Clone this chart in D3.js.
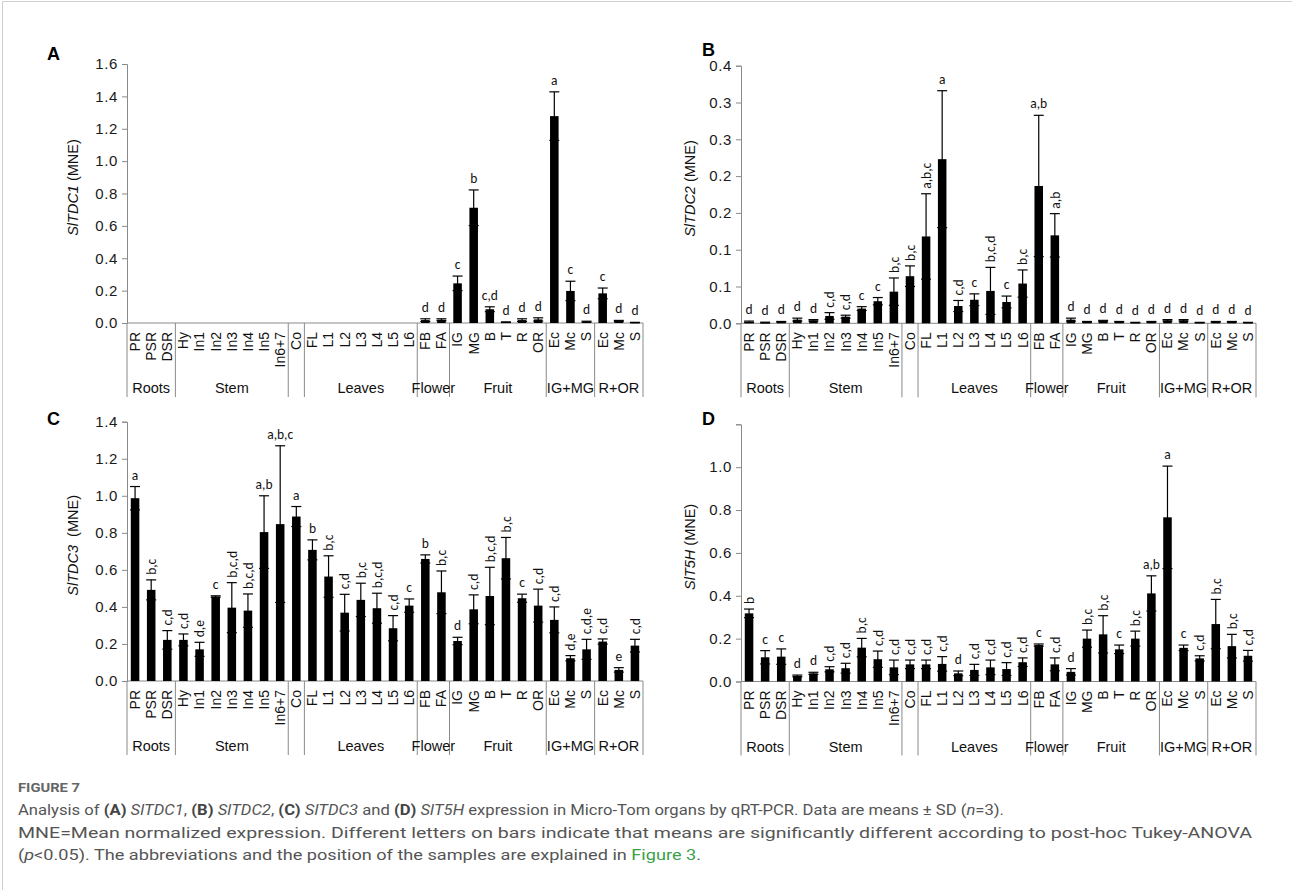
<!DOCTYPE html>
<html>
<head>
<meta charset="utf-8">
<script src="https://cdn.jsdelivr.net/npm/d3@7"></script>
<style>
  body { margin: 0; background: #fff; }
  svg { display: block; }
  .sans { font-family: 'Liberation Sans', Arimo, Arial, sans-serif; }
  .lett { font-family: Carlito, 'Open Sans', sans-serif; }
  .cap { font-family: Roboto, 'Open Sans', sans-serif; }
</style>
</head>
<body>
<div id="chart"></div>
<script>
// sample names, in plot order
var categories = ['PR','PSR','DSR','Hy','In1','In2','In3','In4','In5','In6+7','Co',
  'FL','L1','L2','L3','L4','L5','L6','FB','FA','IG','MG','B','T','R','OR',
  'Ec','Mc','S','Ec','Mc','S'];
var groupNames = ['Roots','Stem','','Leaves','Flower','Fruit','IG+MG','R+OR'];
var groupSizes = [3, 7, 1, 7, 2, 6, 3, 3];

// A: SlTDC1
var tdc1Mean = [null,null,null,null,null,null,null,null,null,null,null,
  null,null,null,null,null,null,null,0.018,0.02,0.245,0.712,0.085,0.005,0.018,0.022,
  1.278,0.198,0.008,0.183,0.012,0.003];
var tdc1Sd = [0,0,0,0,0,0,0,0,0,0,0,0,0,0,0,0,0,0,0.008,0.006,0.045,0.11,0.015,0.002,0.008,0.01,
  0.15,0.06,0.003,0.033,0.004,0.001];
var tdc1Letters = ['','','','','','','','','','','','','','','','','','','d','d','c','b','c,d','d','d','d',
  'a','c','d','c','d','d'];

// B: SlTDC2
var tdc2Mean = [0.002,0.001,0.002,0.005,0.004,0.010,0.009,0.020,0.030,0.043,0.064,
  0.118,0.223,0.0235,0.032,0.044,0.029,0.054,0.1866,0.1195,0.005,0.002,0.003,0.002,0.001,0.002,
  0.004,0.004,0.001,0.002,0.002,0.001];
var tdc2Sd = [0.001,0.0005,0.0005,0.002,0.001,0.0045,0.002,0.0026,0.005,0.0186,0.014,
  0.058,0.093,0.0075,0.008,0.032,0.008,0.0185,0.096,0.0295,0.002,0.0005,0.001,0.0005,0.0003,0.0005,
  0.001,0.001,0.0003,0.0005,0.0005,0.0003];
var tdc2Letters = ['d','d','d','d','d','c,d','c,d','c','c','b,c','b,c',
  'a,b,c','a','c,d','c','b,c,d','c','b,c','a,b','a,b','d','d','d','d','d','d',
  'd','d','d','d','d','d'];
var tdc2Ticks = [0, 0.05, 0.1, 0.15, 0.2, 0.25, 0.3, 0.35];
var tdc2TickLabels = ['0.0','0.1','0.1','0.2','0.2','0.3','0.3','0.4'];

// C: SlTDC3
var tdc3Mean = [0.987,0.492,0.222,0.222,0.171,0.456,0.396,0.38,0.804,0.847,0.888,
  0.708,0.564,0.369,0.438,0.393,0.285,0.407,0.659,0.479,0.216,0.387,0.459,0.663,0.447,0.407,
  0.33,0.123,0.171,0.213,0.06,0.191];
var tdc3Sd = [0.063,0.054,0.05,0.032,0.038,0.004,0.135,0.09,0.196,0.423,0.054,
  0.054,0.112,0.099,0.09,0.081,0.068,0.036,0.022,0.115,0.02,0.078,0.155,0.112,0.022,0.089,
  0.07,0.014,0.054,0.014,0.012,0.034];
var tdc3Letters = ['a','b,c','c,d','c,d','d,e','c','b,c,d','b,c,d','a,b','a,b,c','a',
  'b','b,c','c,d','b,c','b,c,d','c,d','c','b','b,c','d','c,d','b,c,d','b,c','c','c,d',
  'c,d','d,e','c,d,e','c,d','e','c,d'];

// D: SlT5H
var t5hMean = [0.318,0.113,0.116,0.026,0.038,0.057,0.062,0.158,0.104,0.066,0.08,
  0.08,0.082,0.038,0.054,0.066,0.058,0.09,0.17,0.08,0.045,0.2,0.22,0.15,0.2,0.411,
  0.766,0.157,0.108,0.268,0.165,0.12];
var t5hSd = [0.02,0.031,0.036,0.004,0.005,0.012,0.023,0.043,0.038,0.034,0.02,
  0.02,0.034,0.011,0.026,0.034,0.03,0.02,0.005,0.03,0.015,0.04,0.087,0.02,0.035,0.082,
  0.239,0.013,0.012,0.115,0.055,0.025];
var t5hLetters = ['b','c','c','d','d','c,d','c,d','b,c','c,d','c,d','c,d',
  'c,d','c,d','d','c,d','c,d','c,d','c,d','c','c,d','d','b,c','b,c','c','b,c','a,b',
  'a','c','c,d','b,c','b,c','c,d'];
var t5hTickLabels = ['0.0','0.2','0.4','0.6','0.8','1.0',''];

var width = 1292, height = 890;
var svg = d3.select('#chart').append('svg')
  .attr('width', width)
  .attr('height', height);

// frame of the figure box
svg.append('path')
  .attr('d', 'M2.5,' + height + 'V1.5H' + width)
  .attr('fill', 'none')
  .attr('stroke', '#cfcfcf')
  .attr('stroke-width', 1);

var panels = [
  { tag: 'A', gene: 'SlTDC1', unit: ' (MNE)', mean: tdc1Mean, sd: tdc1Sd, letters: tdc1Letters,
    max: 1.6, ticks: d3.range(0, 1.61, 0.2), tickLabels: null,
    x0: 127, x1: 643, yTop: 64, yBot: 323, tagX: 47, tagY: 60, labelX: 73,
    flat: [22], turned: [] },
  { tag: 'B', gene: 'SlTDC2', unit: ' (MNE)', mean: tdc2Mean, sd: tdc2Sd, letters: tdc2Letters,
    max: 0.35, ticks: tdc2Ticks, tickLabels: tdc2TickLabels,
    x0: 741, x1: 1256, yTop: 65.7, yBot: 323.3, tagX: 702, tagY: 56, labelX: 690,
    flat: [18], turned: [] },
  { tag: 'C', gene: 'SlTDC3', unit: '  (MNE)', mean: tdc3Mean, sd: tdc3Sd, letters: tdc3Letters,
    max: 1.4, ticks: d3.range(0, 1.41, 0.2), tickLabels: null,
    x0: 127, x1: 643, yTop: 421.7, yBot: 681, tagX: 47, tagY: 425, labelX: 73,
    flat: [8, 9], turned: [] },
  { tag: 'D', gene: 'SlT5H', unit: ' (MNE)', mean: t5hMean, sd: t5hSd, letters: t5hLetters,
    max: 1.2, ticks: d3.range(0, 1.21, 0.2), tickLabels: t5hTickLabels,
    x0: 741, x1: 1256, yTop: 424.3, yBot: 681.5, tagX: 702, tagY: 425, labelX: 690,
    flat: [25], turned: [0] }
];

var axisColor = '#8a8a8a';

panels.forEach(function(p) {
  var g = svg.append('g');

  var x = d3.scaleBand()
    .domain(d3.range(categories.length))
    .range([p.x0, p.x1])
    .padding(0);
  var y = d3.scaleLinear()
    .domain([0, p.max])
    .range([p.yBot, p.yTop]);

  var bw = x.bandwidth();
  var barW = bw * 0.53;
  var capW = bw * 0.62;

  // y axis
  var yAxis = d3.axisLeft(y)
    .tickValues(p.ticks)
    .tickSize(5)
    .tickPadding(4)
    .tickFormat(function(d, i) { return p.tickLabels ? p.tickLabels[i] : d3.format('.1f')(d); });
  var ya = g.append('g')
    .attr('transform', 'translate(' + p.x0 + ',0)')
    .call(yAxis);
  ya.attr('font-family', null).attr('font-size', null);
  ya.select('.domain').attr('stroke', axisColor);
  ya.selectAll('.tick line').attr('stroke', axisColor);
  ya.selectAll('.tick text')
    .attr('class', 'sans')
    .style('font-size', '15px')
    .style('letter-spacing', '0.6px')
    .attr('fill', '#1a1a1a');

  // x axis line
  g.append('line')
    .attr('x1', p.x0).attr('x2', p.x1)
    .attr('y1', p.yBot).attr('y2', p.yBot)
    .attr('stroke', axisColor);

  // group separators
  var bounds = [0];
  groupSizes.forEach(function(s) { bounds.push(bounds[bounds.length - 1] + s); });
  g.selectAll('.sep')
    .data(bounds)
    .enter().append('line')
    .attr('x1', function(d) { return d < categories.length ? x(d) : p.x1; })
    .attr('x2', function(d) { return d < categories.length ? x(d) : p.x1; })
    .attr('y1', p.yBot)
    .attr('y2', p.yBot + 74)
    .attr('stroke', axisColor);

  // group names
  g.selectAll('.grp')
    .data(groupNames)
    .enter().append('text')
    .attr('class', 'sans')
    .attr('x', function(d, i) {
      var a = bounds[i], b = bounds[i + 1];
      return p.x0 + (a + b) / 2 * bw;
    })
    .attr('y', p.yBot + 70)
    .attr('text-anchor', 'middle')
    .style('font-size', '14.5px')
    .attr('fill', '#111')
    .text(function(d) { return d; });

  // category labels, rotated
  g.selectAll('.cat')
    .data(categories)
    .enter().append('text')
    .attr('class', 'sans')
    .attr('transform', function(d, i) {
      return 'translate(' + (x(i) + bw / 2) + ',' + (p.yBot + 9) + ') rotate(-90)';
    })
    .attr('dy', '0.35em')
    .attr('text-anchor', 'end')
    .style('font-size', '14px')
    .attr('fill', '#111')
    .text(function(d) { return d; });

  var idx = d3.range(categories.length).filter(function(i) { return p.mean[i] !== null; });

  // bars
  g.selectAll('.bar')
    .data(idx)
    .enter().append('rect')
    .attr('x', function(i) { return x(i) + (bw - barW) / 2; })
    .attr('y', function(i) { return y(p.mean[i]); })
    .attr('width', barW)
    .attr('height', function(i) { return Math.max(0.8, y(0) - y(p.mean[i])); })
    .attr('fill', '#000');

  // error bars (upper and lower)
  var eb = g.selectAll('.err')
    .data(idx)
    .enter().append('g')
    .attr('stroke', '#000')
    .attr('stroke-width', 1.2);
  eb.append('line')
    .attr('x1', function(i) { return x(i) + bw / 2; })
    .attr('x2', function(i) { return x(i) + bw / 2; })
    .attr('y1', function(i) { return y(Math.max(0, p.mean[i] - p.sd[i])); })
    .attr('y2', function(i) { return y(p.mean[i] + p.sd[i]); });
  eb.append('line')
    .attr('x1', function(i) { return x(i) + (bw - capW) / 2; })
    .attr('x2', function(i) { return x(i) + (bw + capW) / 2; })
    .attr('y1', function(i) { return y(p.mean[i] + p.sd[i]); })
    .attr('y2', function(i) { return y(p.mean[i] + p.sd[i]); });
  eb.append('line')
    .attr('x1', function(i) { return x(i) + (bw - capW) / 2; })
    .attr('x2', function(i) { return x(i) + (bw + capW) / 2; })
    .attr('y1', function(i) { return y(Math.max(0, p.mean[i] - p.sd[i])); })
    .attr('y2', function(i) { return y(Math.max(0, p.mean[i] - p.sd[i])); });

  // significance letters
  function turned(i) {
    return (p.letters[i].length > 1 && p.flat.indexOf(i) < 0) || p.turned.indexOf(i) >= 0;
  }
  g.selectAll('.lt')
    .data(idx.filter(function(i) { return p.letters[i]; }))
    .enter().append('text')
    .attr('class', 'lett')
    .attr('transform', function(i) {
      var cx = x(i) + bw / 2;
      var top = y(p.mean[i] + p.sd[i]);
      return turned(i) ? 'translate(' + cx + ',' + (top - 5) + ') rotate(-90)'
                       : 'translate(' + cx + ',' + (top - 7) + ')';
    })
    .attr('dy', function(i) { return turned(i) ? '0.35em' : 0; })
    .attr('text-anchor', function(i) { return turned(i) ? 'start' : 'middle'; })
    .style('font-size', '13.5px')
    .attr('fill', '#111')
    .text(function(i) { return p.letters[i]; });

  // panel tag
  g.append('text')
    .attr('class', 'sans')
    .attr('x', p.tagX)
    .attr('y', p.tagY)
    .style('font-weight', 'bold')
    .style('font-size', '18px')
    .attr('fill', '#000')
    .text(p.tag);

  // y axis title
  var yt = g.append('text')
    .attr('class', 'sans')
    .attr('transform', 'translate(' + p.labelX + ',' + ((p.yTop + p.yBot) / 2 - 6) + ') rotate(-90)')
    .attr('dy', '0.35em')
    .attr('text-anchor', 'middle')
    .style('font-size', '14.5px')
    .style('white-space', 'pre')
    .attr('fill', '#111');
  yt.append('tspan').style('font-style', 'italic').text(p.gene);
  yt.append('tspan').text(p.unit);
});

// caption
svg.append('text')
  .attr('class', 'cap')
  .attr('x', 18).attr('y', 792)
  .style('font-size', '12.5px')
  .style('font-weight', 'bold')
  .attr('fill', '#666')
  .attr('textLength', 62)
  .attr('lengthAdjust', 'spacingAndGlyphs')
  .text('FIGURE 7');

var captionLines = [
  [['Analysis of ', ''], ['(A)', 'b'], [' ', ''], ['SlTDC1', 'i'], [', ', ''], ['(B)', 'b'], [' ', ''],
   ['SlTDC2', 'i'], [', ', ''], ['(C)', 'b'], [' ', ''], ['SlTDC3', 'i'], [' and ', ''], ['(D)', 'b'], [' ', ''],
   ['SlT5H', 'i'], [' expression in Micro-Tom organs by qRT-PCR. Data are means ± SD (', ''], ['n', 'i'], ['=3).', '']],
  [['MNE=Mean normalized expression. Different letters on bars indicate that means are significantly different according to post-hoc Tukey-ANOVA', '']],
  [['(', ''], ['p', 'i'], ['<0.05). The abbreviations and the position of the samples are explained in ', ''], ['Figure 3', 'g'], ['.', '']]
];
var captionWidths = [986, 1234, 683];
var captionY = [815, 838, 860];

captionLines.forEach(function(parts, li) {
  var t = svg.append('text')
    .attr('class', 'cap')
    .attr('x', 18)
    .attr('y', captionY[li])
    .style('font-size', '15px')
    .style('white-space', 'pre')
    .attr('fill', '#555')
    .attr('textLength', captionWidths[li])
    .attr('lengthAdjust', 'spacingAndGlyphs');
  parts.forEach(function(s) {
    var ts = t.append('tspan').text(s[0]);
    if (s[1] === 'b') ts.style('font-weight', 'bold').attr('fill', '#444');
    if (s[1] === 'i') ts.style('font-style', 'italic');
    if (s[1] === 'g') ts.attr('fill', '#3aa04a');
  });
});
</script>
</body>
</html>
